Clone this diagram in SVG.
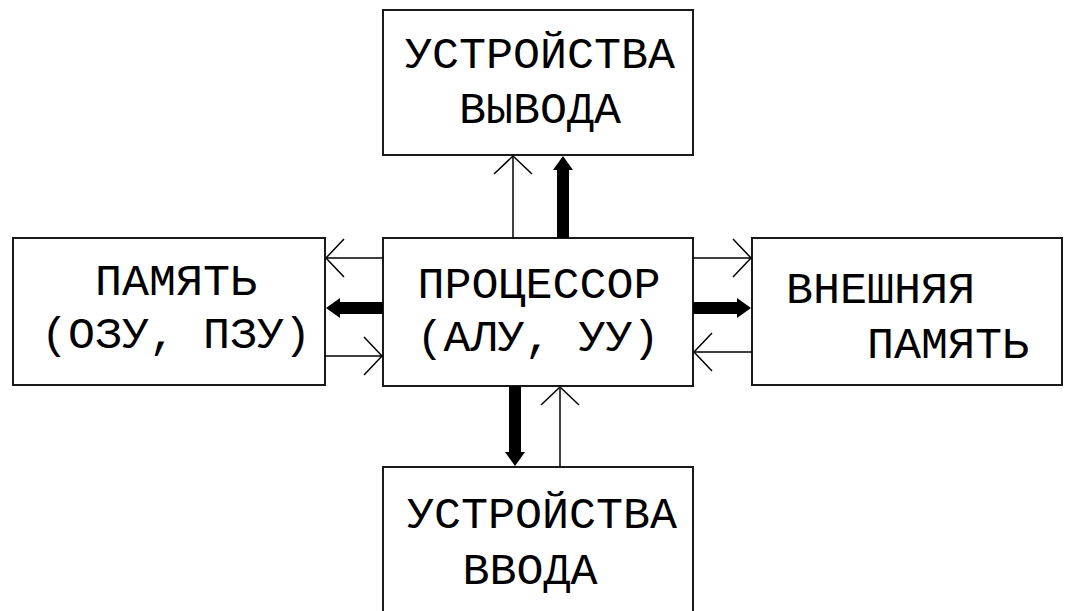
<svg xmlns="http://www.w3.org/2000/svg" width="1066" height="611" viewBox="0 0 1066 611">
<style>
.box{fill:#fff;stroke:#1a1a1a;stroke-width:2}
.t{font-family:"Liberation Mono","DejaVu Sans Mono",monospace;font-size:45px;fill:#000}
.m{text-anchor:middle}
.thin{stroke:#000;stroke-width:1.5;fill:none;marker-end:url(#open)}
.thick{fill:#000;stroke:none}
</style>
<defs>
<marker id="open" markerUnits="userSpaceOnUse" markerWidth="40" markerHeight="44" refX="0" refY="0" viewBox="-20 -22 40 44" orient="auto" overflow="visible">
<path d="M-18,-19 L0,0 L-18,19" fill="none" stroke="#000" stroke-width="1.5"/>
</marker>
</defs>
<rect width="1066" height="611" fill="#fff"/>
<g id="out">
<rect class="box" x="383" y="10" width="310" height="145"/>
<text class="t m" x="540" y="68">УСТРОЙСТВА</text>
<text class="t m" x="540" y="123">ВЫВОДА</text>
</g>
<g id="cpu">
<rect class="box" x="383" y="238" width="310" height="148"/>
<text class="t m" x="539" y="298">ПРОЦЕССОР</text>
<text class="t m" x="538" y="351">(АЛУ, УУ)</text>
</g>
<g id="mem">
<rect class="box" x="13" y="238" width="312" height="147"/>
<text class="t m" x="176" y="295">ПАМЯТЬ</text>
<text class="t m" x="176" y="348">(ОЗУ, ПЗУ)</text>
</g>
<g id="ext">
<rect class="box" x="752" y="238" width="310" height="147"/>
<text class="t" x="786" y="303">ВНЕШНЯЯ</text>
<text class="t" x="867" y="358">ПАМЯТЬ</text>
</g>
<g id="in">
<rect class="box" x="383" y="467" width="310" height="160"/>
<text class="t m" x="542" y="528">УСТРОЙСТВА</text>
<text class="t m" x="530" y="584">ВВОДА</text>
</g>
<g id="connectors">
<line class="thin" x1="513" y1="238" x2="513" y2="156"/>
<polygon class="thick" points="557,238 557,170 553,170 563,156 573,170 569,170 569,238"/>
<line class="thin" x1="383" y1="258" x2="326" y2="258"/>
<polygon class="thick" points="383,302 340,302 340,298 326,308 340,318 340,314 383,314"/>
<line class="thin" x1="325" y1="356" x2="382" y2="356"/>
<line class="thin" x1="693" y1="258" x2="751" y2="258"/>
<polygon class="thick" points="693,302 737,302 737,298 751,308 737,318 737,314 693,314"/>
<line class="thin" x1="752" y1="352" x2="694" y2="352"/>
<polygon class="thick" points="509,386 509,452 505,452 515,466 525,452 521,452 521,386"/>
<line class="thin" x1="560" y1="467" x2="560" y2="387"/>
</g>
</svg>
